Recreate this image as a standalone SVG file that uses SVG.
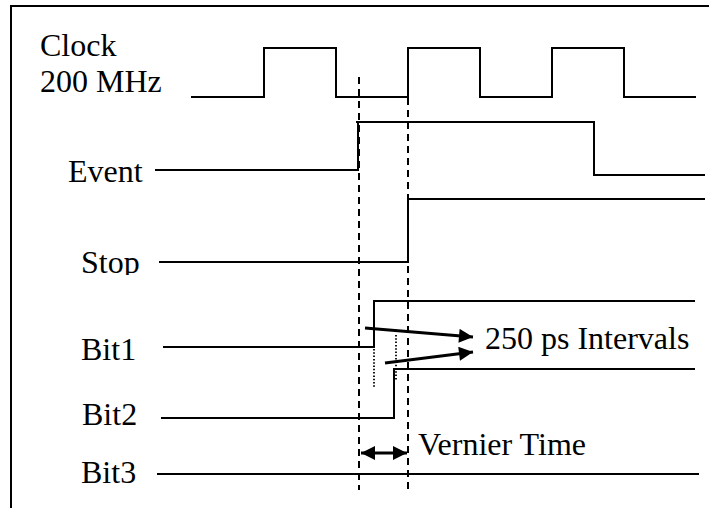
<svg xmlns="http://www.w3.org/2000/svg" width="709" height="508" viewBox="0 0 709 508">
<defs>
<style>
.sig{fill:none;stroke:#000;stroke-width:2}
.dash{fill:none;stroke:#000;stroke-width:2;stroke-dasharray:7,5}
.dot{fill:none;stroke:#000;stroke-width:1.8;stroke-dasharray:1.5,1.8}
.lbl{font-family:"Liberation Serif","Times New Roman",serif;font-size:32px;fill:#000}
.arr{fill:none;stroke:#000;stroke-width:2.8}
</style>
<marker id="ah" viewBox="0 0 10 10" refX="10" refY="5" markerWidth="16" markerHeight="14" markerUnits="userSpaceOnUse" orient="auto-start-reverse">
<path d="M0,0 L10,5 L0,10 Z" fill="#000"/>
</marker>
<clipPath id="stopclip"><rect x="60" y="230" width="100" height="45"/></clipPath>
</defs>
<rect width="709" height="508" fill="#fff"/>
<path class="sig" d="M11,508 V6 H709"/>
<g id="clock">
<text class="lbl" x="40" y="56">Clock</text>
<text class="lbl" x="40" y="92">200 MHz</text>
<path class="sig" d="M191,97 H264 V48 H336 V97 H408 V48 H480 V97 H552 V48 H624 V97 H696"/>
</g>
<g id="event">
<text class="lbl" x="68" y="182">Event</text>
<path class="sig" d="M155,170 H358 V122 M356,122 H594 V175 H705"/>
</g>
<g id="stop">
<text class="lbl" x="81" y="273" clip-path="url(#stopclip)">Stop</text>
<path class="sig" d="M159,262 H408 V199 H705"/>
</g>
<g id="bit1">
<text class="lbl" x="81" y="360">Bit1</text>
<path class="sig" d="M163,347 H374 V301 H695"/>
</g>
<g id="bit2">
<text class="lbl" x="82" y="425">Bit2</text>
<path class="sig" d="M161,418 H394 V369 H695"/>
</g>
<g id="bit3">
<text class="lbl" x="81" y="483">Bit3</text>
<path class="sig" d="M157,474 H699"/>
</g>
<g id="connectors">
<path class="dash" d="M359,77 V490"/>
<path class="dash" d="M408,62 V492"/>
<path class="dot" d="M374,349 V388"/>
<path class="dot" d="M396,335 V380"/>
<path class="arr" d="M365,328 L473,337" marker-end="url(#ah)"/>
<path class="arr" d="M385,363 L473,352" marker-end="url(#ah)"/>
<path class="arr" d="M361,453 L407,453" marker-start="url(#ah)" marker-end="url(#ah)"/>
</g>
<g id="labels">
<text class="lbl" x="485" y="349">250 ps Intervals</text>
<text class="lbl" x="418" y="455">Vernier Time</text>
</g>
</svg>
